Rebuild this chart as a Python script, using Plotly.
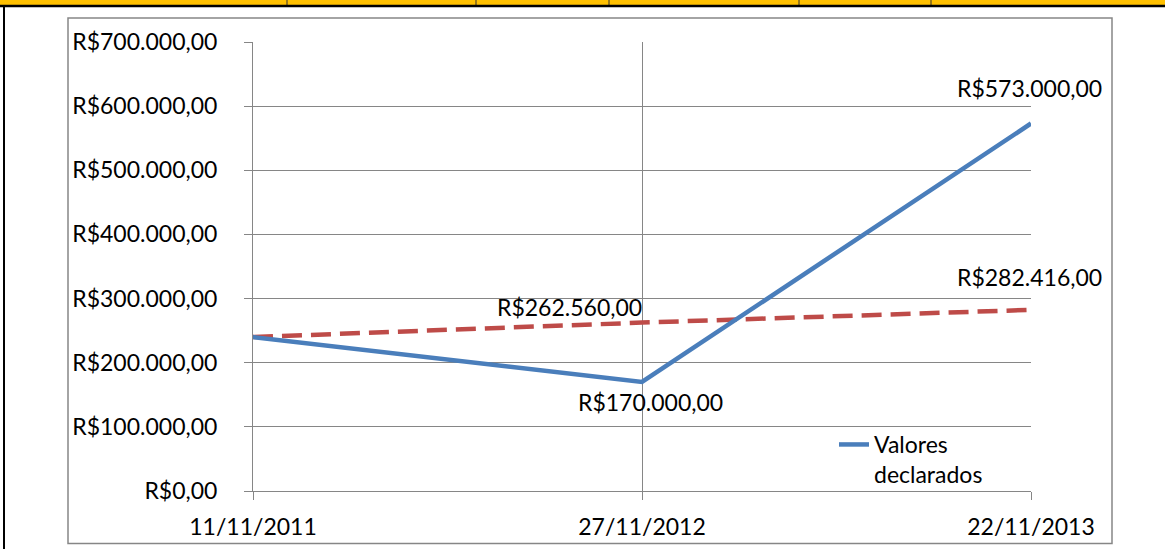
import plotly.graph_objects as go

# ---- data ----
dates = ["11/11/2011", "27/11/2012", "22/11/2013"]
valores_declarados = [240000, 170000, 573000]
valores_corrigidos = [240000, 262560, 282416]
y_ticks = [0, 100000, 200000, 300000, 400000, 500000, 600000, 700000]

def brl(v):
    s = f"{v:,.2f}"
    s = s.replace(",", "X").replace(".", ",").replace("X", ".")
    return "R$" + s

W, H = 1165, 549
ML, MR, MT, MB = 253, 134, 42, 58
PW, PH = W - ML - MR, H - MT - MB

def px(x):
    return (x - ML) / PW

def py(y):
    return (H - MB - y) / PH

BLUE = "#4A7EBB"
RED = "#BE4B48"
GRID = "#868686"
FONT = "Lato"
FS = 23

fig = go.Figure()
fig.add_trace(go.Scatter(
    x=dates, y=valores_corrigidos, mode="lines", name="Valores corrigidos",
    line=dict(color=RED, width=4.5, dash="20px,9px"), showlegend=False,
))
fig.add_trace(go.Scatter(
    x=dates, y=valores_declarados, mode="lines", name="Valores<br>declarados",
    line=dict(color=BLUE, width=4.5),
))

# data labels
labels = [
    (dates[2], valores_declarados[2], -2, 35),
    (dates[1], valores_declarados[1], 8, -20),
    (dates[1], valores_corrigidos[1], -73, 16),
    (dates[2], valores_corrigidos[2], -2, 33),
]
for x, y, xs, ys in labels:
    fig.add_annotation(x=x, y=y, text=brl(y), showarrow=False,
                       xshift=xs, yshift=ys,
                       font=dict(family=FONT, size=FS, color="black"))

shapes = []
# top yellow strip with black rule
shapes.append(dict(type="rect", xref="paper", yref="paper",
                   x0=px(0), x1=px(W), y0=py(0), y1=py(5),
                   fillcolor="#FFC000", line=dict(width=0), layer="below"))
for sx in [287, 476, 609, 799, 931]:
    shapes.append(dict(type="line", xref="paper", yref="paper",
                       x0=px(sx), x1=px(sx), y0=py(0), y1=py(5),
                       line=dict(color="#333333", width=1)))
shapes.append(dict(type="line", xref="paper", yref="paper",
                   x0=px(0), x1=px(W), y0=py(6), y1=py(6),
                   line=dict(color="black", width=2.5)))
shapes.append(dict(type="line", xref="paper", yref="paper",
                   x0=px(4), x1=px(4), y0=py(6), y1=py(H),
                   line=dict(color="black", width=2)))
# chart frame
shapes.append(dict(type="rect", xref="paper", yref="paper",
                   x0=px(68), x1=px(1112), y0=py(18), y1=py(543.5),
                   line=dict(color=GRID, width=1.5), layer="below"))

fig.update_layout(
    width=W, height=H,
    margin=dict(l=ML, r=MR, t=MT, b=MB, pad=0, autoexpand=False),
    paper_bgcolor="white", plot_bgcolor="white",
    font=dict(family=FONT, size=FS, color="black"),
    shapes=shapes,
    legend=dict(x=px(834), y=py(423), xanchor="left", yanchor="top",
                bgcolor="rgba(0,0,0,0)", borderwidth=0, valign="top",
                font=dict(family=FONT, size=FS, color="black")),
    xaxis=dict(type="category", range=[0, 2], showgrid=True, gridcolor=GRID,
               gridwidth=1, showline=True, linecolor=GRID, linewidth=1,
               ticks="outside", ticklen=8, tickcolor=GRID, automargin=False,
               ticklabelstandoff=7, fixedrange=True),
    yaxis=dict(range=[0, 700000], tickvals=y_ticks,
               ticktext=[brl(v) for v in y_ticks],
               showgrid=True, gridcolor=GRID, gridwidth=1,
               showline=True, linecolor=GRID, linewidth=1,
               zeroline=False, automargin=False,
               ticks="outside", ticklen=8, tickcolor=GRID,
               ticklabelstandoff=22, fixedrange=True),
)

fig.write_html(
    "out.html",
    config={"displayModeBar": False},
    post_script="document.body.style.margin='0px';document.body.style.overflow='hidden';",
)
